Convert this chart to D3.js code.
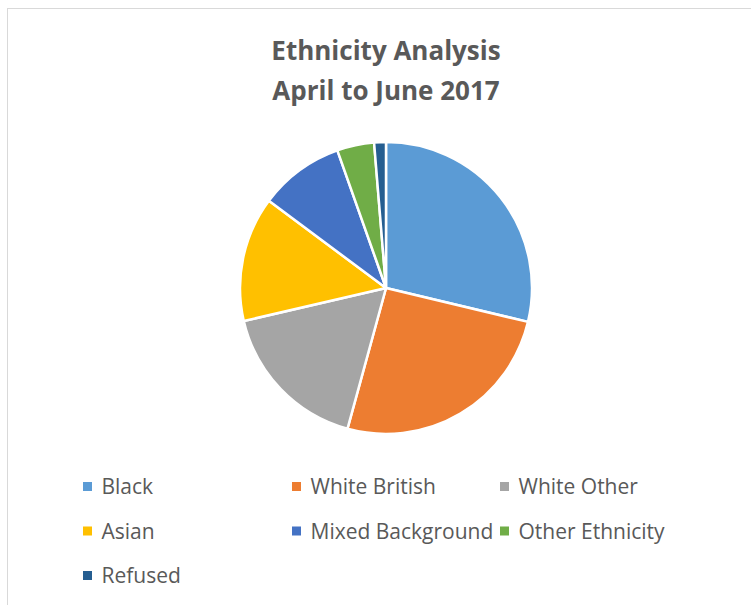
<!DOCTYPE html>
<html>
<head>
<meta charset="utf-8">
<script src="https://cdn.jsdelivr.net/npm/d3@7"></script>
<style>
  body { margin: 0; background: #fff; }
  text { font-family: "Open Sans", sans-serif; fill: #595959; }
</style>
</head>
<body>
<script>
const width = 751,
      height = 605;

// share of cases, in percent
const categories = ["Black", "White British", "White Other", "Asian", "Mixed Background", "Other Ethnicity", "Refused"];
const shares = [28.7, 25.5, 17.1, 13.8, 9.4, 4.1, 1.3];
const colours = ["#5B9BD5", "#ED7D31", "#A5A5A5", "#FFC000", "#4472C4", "#70AD47", "#255E91"];
const titleLines = ["Ethnicity Analysis", "April to June 2017"];

const data = categories.map((c, i) => ({ name: c, value: shares[i] }));

const svg = d3.select("body")
    .append("svg")
    .attr("width", width)
    .attr("height", height);

// chart frame
svg.append("rect")
    .attr("x", 7.5)
    .attr("y", 8.5)
    .attr("width", 760)
    .attr("height", 620)
    .attr("fill", "#fff")
    .attr("stroke", "#d9d9d9");

svg.append("g")
    .selectAll("text")
    .data(titleLines)
    .enter().append("text")
    .attr("x", 386)
    .attr("y", (d, i) => 60 + i * 40)
    .attr("text-anchor", "middle")
    .style("font-size", "26px")
    .style("font-weight", "bold")
    .text(d => d);

const color = d3.scaleOrdinal()
    .domain(categories)
    .range(colours);

const pie = d3.pie()
    .value(d => d.value)
    .sort(null);

const arc = d3.arc()
    .innerRadius(0)
    .outerRadius(146);

svg.append("g")
    .attr("transform", "translate(386,288)")
    .selectAll("path")
    .data(pie(data))
    .enter().append("path")
    .attr("d", arc)
    .attr("fill", d => color(d.data.name))
    .attr("stroke", "#fff")
    .attr("stroke-width", 2.5)
    .attr("stroke-linejoin", "round");

// legend, three per row
const colX = [83, 292, 500];
const legend = svg.append("g")
    .selectAll("g")
    .data(categories)
    .enter().append("g")
    .attr("transform", (d, i) => `translate(${colX[i % 3]},${494 + Math.floor(i / 3) * 44.5})`);

legend.append("rect")
    .attr("x", 0)
    .attr("y", -12)
    .attr("width", 9)
    .attr("height", 9)
    .attr("fill", d => color(d));

legend.append("text")
    .attr("x", 18.5)
    .style("font-size", "21px")
    .text(d => d);
</script>
</body>
</html>
